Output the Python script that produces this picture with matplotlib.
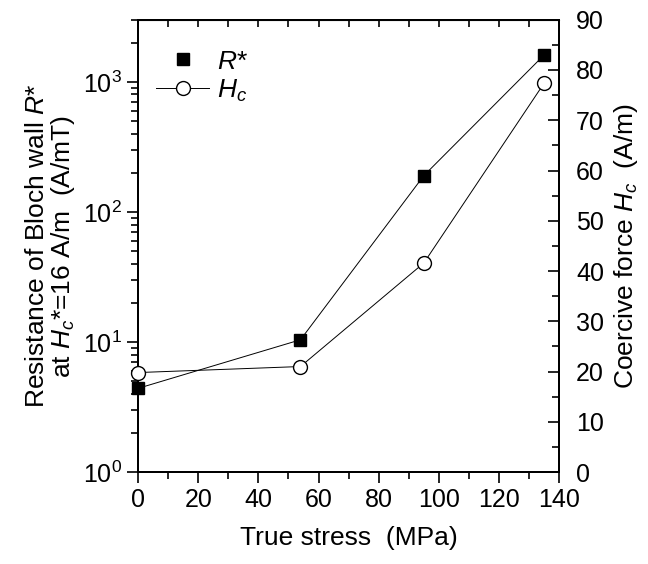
import numpy as np
import matplotlib
matplotlib.use("Agg")
import matplotlib.pyplot as plt
from matplotlib.lines import Line2D
from matplotlib.ticker import LogLocator, MultipleLocator, NullFormatter

plt.rcParams['font.family'] = ['Liberation Sans', 'DejaVu Sans']
plt.rcParams['mathtext.fontset'] = 'custom'
plt.rcParams['mathtext.it'] = 'Liberation Sans:italic'
plt.rcParams['mathtext.rm'] = 'Liberation Sans'

# Datos
esfuerzo = [0, 54, 95, 135]          # MPa
r_estrella = [4.4, 10.4, 190, 1610]   # A/mT
h_c = [19.8, 21.0, 41.6, 77.4]        # A/m

fig = plt.figure(figsize=(6.48, 5.64), dpi=100)
ax = fig.add_axes([0.213, 0.163, 0.650, 0.802])
ax2 = ax.twinx()

ax.plot(esfuerzo, r_estrella, '-', color='black', lw=0.7, marker='s',
        ms=9, mfc='black', mec='black', zorder=3, clip_on=False)
ax2.plot(esfuerzo, h_c, '-', color='black', lw=0.7, marker='o',
         ms=10, mfc='white', mec='black', mew=1.0, zorder=3, clip_on=False)

ax.set_yscale('log')
ax.set_ylim(1, 3000)
ax.set_xlim(0, 140)
ax2.set_ylim(0, 90)

ax.xaxis.set_major_locator(MultipleLocator(20))
ax.xaxis.set_minor_locator(MultipleLocator(10))
ax.yaxis.set_major_locator(LogLocator(base=10, numticks=10))
ax.yaxis.set_minor_locator(LogLocator(base=10, subs=np.arange(2, 10), numticks=10))
ax.yaxis.set_minor_formatter(NullFormatter())
ax2.yaxis.set_major_locator(MultipleLocator(10))
ax2.yaxis.set_minor_locator(MultipleLocator(5))

ax.tick_params(axis='both', which='major', direction='out', length=8, width=1.2,
               labelsize=18, top=False)
ax.tick_params(axis='both', which='minor', direction='out', length=5, width=1.2)
ax2.tick_params(axis='y', which='major', direction='in', length=8, width=1.2,
                labelsize=18, pad=12)
ax2.tick_params(axis='y', which='minor', direction='in', length=5, width=1.2)

# ticks superiores sin etiquetas
sec = ax.secondary_xaxis('top')
sec.xaxis.set_major_locator(MultipleLocator(10))
sec.tick_params(direction='in', length=5, width=1.2, labeltop=False)

for a in (ax, ax2):
    for s in a.spines.values():
        s.set_linewidth(1.4)

ax.set_xlabel("True stress  (MPa)", fontsize=19, labelpad=10)
ax.set_ylabel("Resistance of Bloch wall $R$*\nat $H_c$*=16 A/m  (A/mT)",
              fontsize=19, linespacing=1.0, labelpad=4)
ax2.set_ylabel("Coercive force $H_c$  (A/m)", fontsize=19, labelpad=6)

handles = [
    Line2D([], [], ls='none', marker='s', ms=9, color='black'),
    Line2D([], [], ls='-', lw=0.7, color='black', marker='o', ms=10,
           mfc='white', mec='black'),
]
ax.legend(handles, ["$R$*", "$H_c$"], loc='upper left', frameon=False,
          fontsize=19, handlelength=2.0, handletextpad=0.3,
          bbox_to_anchor=(0.0, 0.975), borderaxespad=0.3, labelspacing=0.15)

fig.savefig("out.png", dpi=100)
